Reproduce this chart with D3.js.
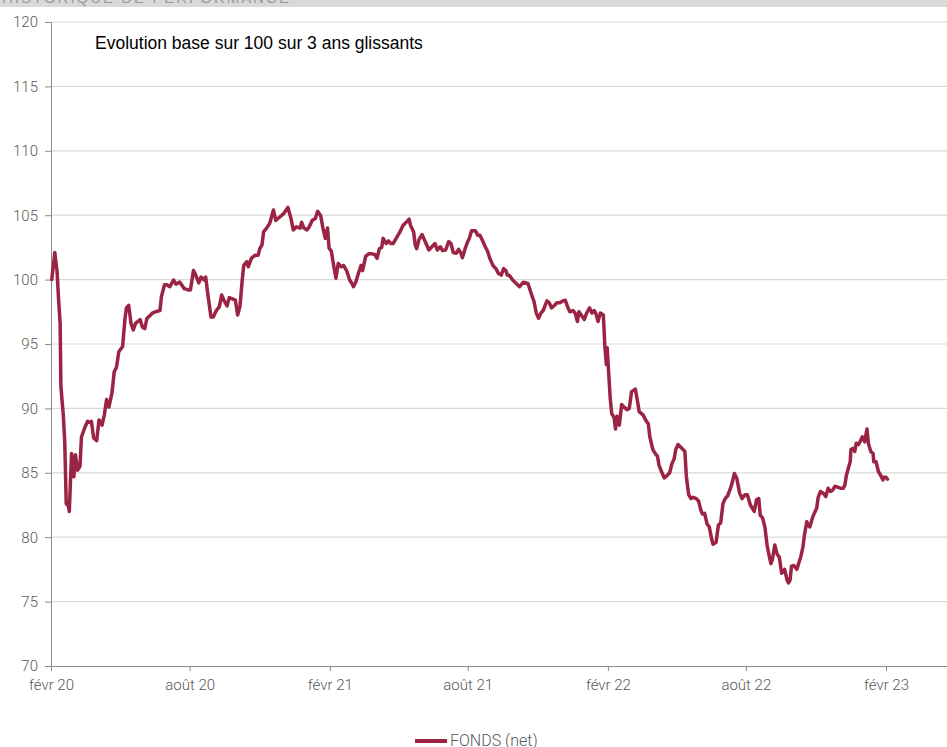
<!DOCTYPE html>
<html>
<head>
<meta charset="utf-8">
<script src="https://cdn.jsdelivr.net/npm/d3@7/dist/d3.min.js"></script>
<style>
  html, body { margin: 0; padding: 0; background: #ffffff; }
  svg { display: block; }
</style>
</head>
<body>
<svg id="chart" width="947" height="747"></svg>
<script>
// ---- Data ----
const headerText = "HISTORIQUE DE PERFORMANCE";
const chartTitle = "Evolution base sur 100 sur 3 ans glissants";
const seriesName = "FONDS (net)";
const yTicks = [70, 75, 80, 85, 90, 95, 100, 105, 110, 115, 120];
const xTickDates = ["2020-02-01", "2020-08-01", "2021-02-01", "2021-08-01", "2022-02-01", "2022-08-01", "2023-02-01"];
const xTickLabels = ["févr 20", "août 20", "févr 21", "août 21", "févr 22", "août 22", "févr 23"];

const dates = [
  "2020-02-02","2020-02-06","2020-02-09","2020-02-11","2020-02-13","2020-02-14","2020-02-17","2020-02-19","2020-02-21","2020-02-24","2020-02-25","2020-02-27","2020-02-28",
  "2020-03-02","2020-03-04","2020-03-07","2020-03-10","2020-03-12","2020-03-17","2020-03-20","2020-03-23","2020-03-25","2020-03-28",
  "2020-04-01","2020-04-04","2020-04-08","2020-04-11","2020-04-14","2020-04-17","2020-04-21","2020-04-24","2020-04-27","2020-04-30",
  "2020-05-05","2020-05-08","2020-05-10","2020-05-13","2020-05-16","2020-05-19","2020-05-22","2020-05-28","2020-05-31",
  "2020-06-03","2020-06-06","2020-06-10","2020-06-13","2020-06-17","2020-06-23","2020-06-25","2020-06-29",
  "2020-07-02","2020-07-06","2020-07-11","2020-07-14","2020-07-19","2020-07-25","2020-07-30",
  "2020-08-02","2020-08-06","2020-08-09","2020-08-13","2020-08-16","2020-08-20","2020-08-22","2020-08-25","2020-08-29",
  "2020-09-01","2020-09-05","2020-09-09","2020-09-12","2020-09-15","2020-09-19","2020-09-22","2020-09-26","2020-09-30",
  "2020-10-03","2020-10-06","2020-10-09","2020-10-11","2020-10-15","2020-10-17","2020-10-21","2020-10-26","2020-10-30",
  "2020-11-01","2020-11-04","2020-11-06","2020-11-10","2020-11-14","2020-11-19","2020-11-22","2020-11-28",
  "2020-12-02","2020-12-08","2020-12-12","2020-12-15","2020-12-19","2020-12-24","2020-12-26","2020-12-29",
  "2021-01-02","2021-01-05","2021-01-09","2021-01-13","2021-01-16","2021-01-20","2021-01-23","2021-01-26","2021-01-29","2021-01-31",
  "2021-02-03","2021-02-06","2021-02-09","2021-02-12","2021-02-16","2021-02-19","2021-02-23","2021-02-27",
  "2021-03-02","2021-03-04","2021-03-07","2021-03-10","2021-03-14","2021-03-16","2021-03-20","2021-03-24","2021-03-28",
  "2021-04-01","2021-04-04","2021-04-07","2021-04-10","2021-04-12","2021-04-16","2021-04-19","2021-04-22","2021-04-25","2021-04-30",
  "2021-05-04","2021-05-08","2021-05-13","2021-05-16","2021-05-18","2021-05-22","2021-05-24","2021-05-26","2021-05-29",
  "2021-06-02","2021-06-05","2021-06-08","2021-06-11","2021-06-15","2021-06-19","2021-06-22","2021-06-26","2021-06-29",
  "2021-07-03","2021-07-07","2021-07-10","2021-07-13","2021-07-17","2021-07-20","2021-07-23","2021-07-25","2021-07-28","2021-07-31",
  "2021-08-03","2021-08-06","2021-08-11","2021-08-14","2021-08-17","2021-08-21","2021-08-24","2021-08-27","2021-08-30",
  "2021-09-03","2021-09-07","2021-09-10","2021-09-14","2021-09-17","2021-09-20","2021-09-22","2021-09-25","2021-09-29",
  "2021-10-02","2021-10-08","2021-10-13","2021-10-19","2021-10-24","2021-10-27","2021-10-30",
  "2021-11-02","2021-11-05","2021-11-08","2021-11-13","2021-11-16","2021-11-19","2021-11-22","2021-11-26","2021-11-30",
  "2021-12-04","2021-12-07","2021-12-10","2021-12-13","2021-12-17","2021-12-20","2021-12-23","2021-12-25","2021-12-29",
  "2022-01-01","2022-01-04","2022-01-08","2022-01-11","2022-01-14","2022-01-16","2022-01-19","2022-01-22","2022-01-26","2022-01-28","2022-01-30","2022-01-31",
  "2022-02-04","2022-02-06","2022-02-09","2022-02-11","2022-02-13","2022-02-16","2022-02-19","2022-02-22","2022-02-26",
  "2022-03-01","2022-03-04","2022-03-09","2022-03-12","2022-03-14","2022-03-19","2022-03-23","2022-03-26","2022-03-28",
  "2022-04-01","2022-04-04","2022-04-07","2022-04-09","2022-04-13","2022-04-16","2022-04-19","2022-04-23","2022-04-26","2022-04-29",
  "2022-05-01","2022-05-04","2022-05-09","2022-05-13","2022-05-15","2022-05-18","2022-05-21","2022-05-24","2022-05-28","2022-05-31",
  "2022-06-03","2022-06-05","2022-06-08","2022-06-11","2022-06-14","2022-06-17","2022-06-19","2022-06-23","2022-06-26","2022-06-29",
  "2022-07-02","2022-07-05","2022-07-08","2022-07-11","2022-07-14","2022-07-17","2022-07-20","2022-07-24","2022-07-27","2022-07-31",
  "2022-08-03","2022-08-07","2022-08-10","2022-08-12","2022-08-15","2022-08-18","2022-08-20","2022-08-23","2022-08-26","2022-08-29",
  "2022-09-01","2022-09-03","2022-09-05","2022-09-08","2022-09-11","2022-09-14","2022-09-17","2022-09-19","2022-09-21","2022-09-24","2022-09-26","2022-09-28","2022-09-30",
  "2022-10-03","2022-10-07","2022-10-09","2022-10-12","2022-10-15","2022-10-17","2022-10-20","2022-10-22","2022-10-24","2022-10-28","2022-10-31",
  "2022-11-02","2022-11-04","2022-11-07","2022-11-11","2022-11-14","2022-11-17","2022-11-20","2022-11-23","2022-11-26","2022-11-29",
  "2022-12-03","2022-12-07","2022-12-09","2022-12-11","2022-12-14","2022-12-16","2022-12-17","2022-12-20","2022-12-22","2022-12-24","2022-12-27","2022-12-30",
  "2023-01-01","2023-01-04","2023-01-07","2023-01-09","2023-01-12","2023-01-15","2023-01-16","2023-01-19","2023-01-22","2023-01-25","2023-01-28","2023-01-29",
  "2023-02-01","2023-02-03"
];

const fondsNet = [
  100.0,102.1,100.6,98.4,96.6,91.7,89.6,87.5,82.6,82.4,82.0,85.0,86.5,
  84.7,86.4,85.2,85.5,87.8,88.6,89.0,88.9,89.0,87.7,
  87.5,89.1,88.7,89.5,90.7,90.1,91.2,92.85,93.2,94.4,
  94.8,96.9,97.8,98.0,96.6,96.1,96.6,96.9,96.3,
  96.2,97.0,97.2,97.4,97.5,97.6,98.7,99.6,
  99.6,99.45,99.97,99.65,99.8,99.3,99.2,
  99.2,100.7,100.35,99.75,100.2,99.97,100.2,98.8,97.1,
  97.1,97.6,97.9,98.8,98.4,97.95,98.6,98.5,98.4,
  97.25,97.9,99.97,101.1,101.4,101.0,101.65,101.9,101.9,
  102.4,102.7,103.7,104.0,104.35,105.4,104.6,104.9,
  105.1,105.6,104.75,103.85,104.1,104.0,104.45,104.0,
  103.85,104.1,104.6,104.75,105.3,104.95,104.0,103.2,104.0,102.45,
  102.2,101.1,100.1,101.25,101.0,101.1,100.7,99.97,
  99.7,99.45,99.8,100.4,101.1,100.7,101.8,102.0,102.0,
  101.95,101.65,102.4,102.5,103.2,102.8,103.0,102.8,102.8,103.3,
  103.7,104.2,104.5,104.7,104.2,103.7,102.7,102.4,103.1,
  103.5,103.1,102.7,102.3,102.55,102.8,102.3,102.55,102.25,
  102.3,102.95,102.8,102.1,102.05,102.35,102.05,101.7,102.3,102.8,
  103.2,103.8,103.8,103.45,103.45,102.95,102.55,102.2,101.65,
  101.1,100.85,100.5,100.35,100.85,100.7,100.35,100.3,99.97,
  99.8,99.45,99.8,99.7,98.8,98.3,97.4,
  97.0,97.4,97.6,98.35,98.2,97.8,97.95,98.2,98.2,
  98.35,98.4,97.9,97.5,97.6,97.4,96.75,97.5,97.15,
  96.9,97.4,97.8,97.4,97.6,97.4,96.75,97.4,97.25,94.8,93.4,94.7,
  90.8,89.6,89.3,88.4,89.4,88.7,90.3,90.1,89.9,
  90.0,91.3,91.5,90.5,89.75,89.5,89.05,88.8,87.8,
  86.8,86.5,86.3,85.6,85.0,84.6,84.75,85.0,85.7,86.1,
  86.8,87.2,86.9,86.65,84.7,83.3,83.0,83.1,83.0,82.8,
  82.1,81.8,81.85,81.05,80.8,79.9,79.45,79.6,80.95,81.1,
  82.6,83.0,83.2,83.65,84.2,84.95,84.6,83.4,83.0,83.3,
  83.3,82.5,82.2,82.0,82.9,83.0,81.7,81.5,80.8,79.35,
  78.45,77.95,78.3,79.4,78.7,78.45,77.2,77.3,77.5,76.7,76.45,76.65,77.75,
  77.8,77.5,77.9,78.45,79.25,80.2,81.2,80.9,80.8,81.6,82.0,
  82.25,83.1,83.55,83.4,83.15,83.8,83.55,83.65,83.95,83.9,
  83.8,83.8,84.05,84.8,85.45,85.85,86.8,86.9,86.65,87.3,87.2,87.55,
  87.8,87.4,88.4,87.25,86.65,86.5,85.85,85.85,85.1,84.8,84.45,84.65,
  84.65,84.5
];

// ---- Chart ----
const W = 947, H = 747;
const svg = d3.select("#chart");
const parse = d3.utcParse("%Y-%m-%d");
const data = dates.map((d, i) => ({ date: parse(d), value: fondsNet[i] }));

const mLeft = 51, mTop = 22, mBottom = 666, mRight = 947;
const tickStart = parse(xTickDates[0]);
const tickEnd = parse(xTickDates[xTickDates.length - 1]);
const xBase = d3.scaleUtc().domain([tickStart, tickEnd]).range([mLeft, 886]);
const x = d3.scaleUtc().domain([tickStart, xBase.invert(mRight)]).range([mLeft, mRight]);
const y = d3.scaleLinear().domain([70, 120]).range([mBottom, mTop]);

const fontTick = "Roboto, 'Liberation Sans', Arial, sans-serif";

// header band (cut off at top)
svg.append("rect").attr("x", 0).attr("y", 0).attr("width", W).attr("height", 7).attr("fill", "#d9d9d9");
svg.append("text").attr("x", 2).attr("y", 3).attr("font-family", "'Liberation Sans', Arial, sans-serif")
  .attr("font-size", 15).attr("fill", "#9a9a9a").attr("letter-spacing", 2).text(headerText);
svg.append("rect").attr("x", 0).attr("y", 7).attr("width", W).attr("height", 3).attr("fill", "#ffffff");

// gridlines
svg.append("g").selectAll("line").data(yTicks.filter(t => t !== 70)).join("line")
  .attr("x1", mLeft).attr("x2", mRight)
  .attr("y1", d => y(d)).attr("y2", d => y(d))
  .attr("stroke", "#d9d9d9").attr("stroke-width", 1.2);

// y axis
const yAxis = d3.axisLeft(y).tickValues(yTicks).tickSize(6).tickPadding(7).tickFormat(d3.format("d"));
const gy = svg.append("g").attr("transform", `translate(${mLeft},0)`).call(yAxis);
gy.select(".domain").attr("stroke", "#8c8c8c");
gy.selectAll(".tick line").attr("stroke", "#8c8c8c");
gy.selectAll(".tick text").attr("font-family", fontTick).attr("font-weight", 300)
  .attr("font-size", 15).attr("fill", "#595959");

// x axis
const xAxis = d3.axisBottom(x).tickValues(xTickDates.map(parse)).tickSize(5).tickPadding(8)
  .tickFormat((d, i) => xTickLabels[i]);
const gx = svg.append("g").attr("transform", `translate(0,${mBottom})`).call(xAxis);
gx.select(".domain").attr("stroke", "#8c8c8c");
gx.selectAll(".tick line").attr("stroke", "#8c8c8c");
gx.selectAll(".tick text").attr("font-family", fontTick).attr("font-weight", 300)
  .attr("font-size", 15).attr("fill", "#595959");

// line
const line = d3.line().x(d => x(d.date)).y(d => y(d.value)).curve(d3.curveLinear);
svg.append("path").datum(data).attr("d", line)
  .attr("fill", "none").attr("stroke", "#9b2343").attr("stroke-width", 3.5)
  .attr("stroke-linejoin", "round").attr("stroke-linecap", "round");

// title
svg.append("text").attr("x", 95).attr("y", 49)
  .attr("font-family", "'Liberation Sans', Arial, sans-serif").attr("font-size", 17.5).attr("fill", "#000")
  .text(chartTitle);

// legend
const lg = svg.append("g");
lg.append("line").attr("x1", 415).attr("x2", 447).attr("y1", 741).attr("y2", 741)
  .attr("stroke", "#9b2343").attr("stroke-width", 4);
lg.append("text").attr("x", 450).attr("y", 745.5).attr("font-family", fontTick).attr("font-weight", 300)
  .attr("font-size", 16).attr("fill", "#595959").text(seriesName);
</script>
</body>
</html>
